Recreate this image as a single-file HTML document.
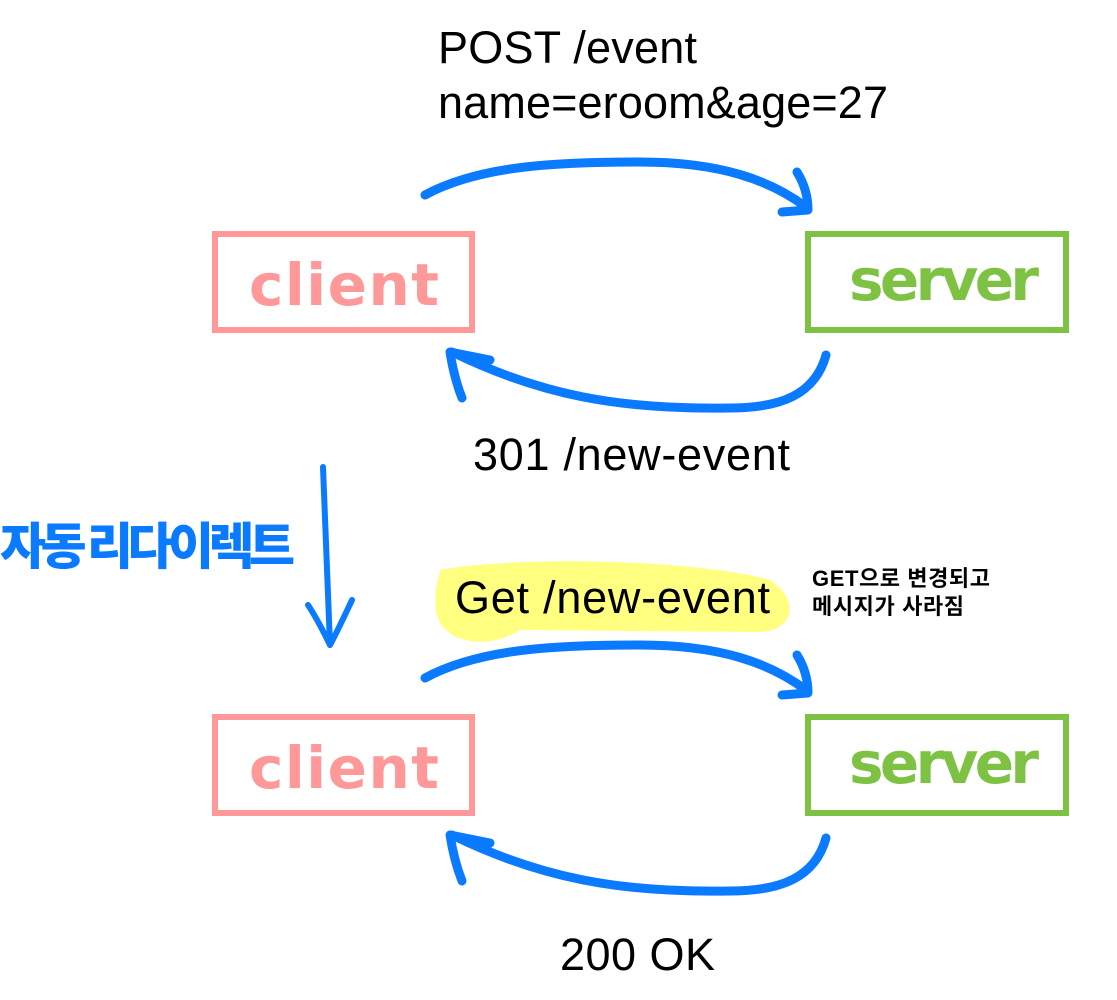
<!DOCTYPE html>
<html><head><meta charset="utf-8"><style>
body{margin:0;background:#fff;}
svg{display:block}
</style></head><body>
<svg width="1117" height="1000" xmlns="http://www.w3.org/2000/svg" font-family="Liberation Sans, sans-serif">
<rect width="1117" height="1000" fill="#fff"/>
<g fill="none" stroke-width="6">
<rect x="215" y="234" width="257" height="96" stroke="#FF9999"/>
<rect x="808" y="234" width="258" height="96" stroke="#7DC243"/>
<rect x="215" y="717" width="257" height="96" stroke="#FF9999"/>
<rect x="808" y="717" width="258" height="96" stroke="#7DC243"/>
</g>
<g font-size="58" font-family="DejaVu Sans, sans-serif" font-weight="bold">
<text x="344" y="305" fill="#FF9999" text-anchor="middle" textLength="190">client</text>
<text x="944" y="300" fill="#7DC243" text-anchor="middle" textLength="190">server</text>
<text x="344" y="788" fill="#FF9999" text-anchor="middle" textLength="190">client</text>
<text x="944" y="783" fill="#7DC243" text-anchor="middle" textLength="190">server</text>
</g>
<path d="M440 570 C520 555 700 560 770 580 C800 600 795 630 760 632 L520 630 C490 650 440 645 436 610 C434 585 440 575 440 570Z" fill="#FFFF80"/>
<g fill="none" stroke="#0A7BFF" stroke-width="9" stroke-linecap="round" stroke-linejoin="round">
<path d="M425 195 C480 165 560 162 640 162 C720 162 770 180 806 207"/>
<path d="M797 172 C805 185 808 198 808 210 L782 212"/>
<path d="M826 355 C815 395 780 408 730 408 C620 410 540 395 452 352"/>
<path d="M462 398 C455 380 452 365 450 352 L490 360"/>
<g transform="translate(0,483)">
<path d="M425 195 C480 165 560 162 640 162 C720 162 770 180 806 207"/>
<path d="M797 172 C805 185 808 198 808 210 L782 212"/>
<path d="M826 355 C815 395 780 408 730 408 C620 410 540 395 452 352"/>
<path d="M462 398 C455 380 452 365 450 352 L490 360"/>
</g>
<path d="M323 467 L330 645" stroke-width="6"/>
<path d="M308 605 C318 620 325 635 330 645 C338 630 345 615 352 600" stroke-width="6"/>
</g>
<g font-size="45" fill="#000">
<text x="438" y="63" textLength="259">POST /event</text>
<text x="438" y="118" textLength="450">name=eroom&amp;age=27</text>
<text x="473" y="470" textLength="317">301 /new-event</text>
<text x="455" y="613" textLength="315">Get /new-event</text>
<text x="560" y="970" textLength="155">200 OK</text>
</g>
<g font-size="22" font-weight="bold" font-family="Liberation Sans, Noto Sans CJK KR, sans-serif">
<text x="812" y="586" textLength="178">GET으로 변경되고</text>
<text x="812" y="614" textLength="152">메시지가 사라짐</text>
</g>
<text x="0" y="564" font-size="50" font-weight="900" fill="#0A7BFF" font-family="Noto Sans CJK KR, sans-serif" textLength="295">자동 리다이렉트</text>
</svg>
</body></html>
